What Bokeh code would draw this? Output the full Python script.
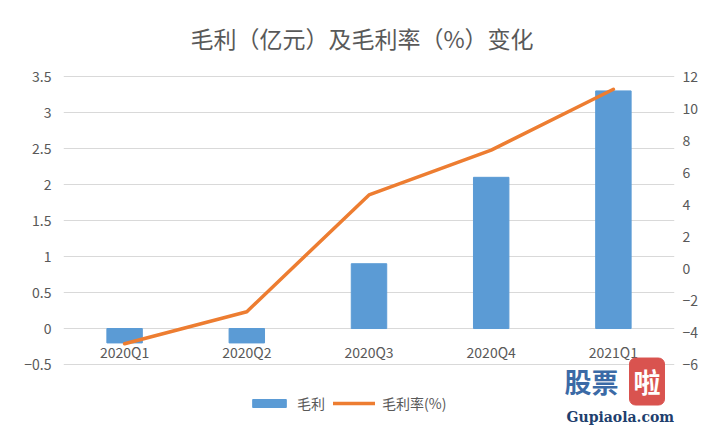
from bokeh.plotting import figure
from bokeh.models import (Range1d, LinearAxis, FactorRange, Legend, LegendItem,
                          FixedTicker, Label, ColumnDataSource)
from bokeh.core.properties import value
from bokeh.embed import file_html
from bokeh.resources import INLINE

title_text = "毛利（亿元）及毛利率（%）变化"
categories = ["2020Q1", "2020Q2", "2020Q3", "2020Q4", "2021Q1"]
gross_profit = [-0.2, -0.2, 0.9, 2.1, 3.3]          # 亿元
gross_margin = [-4.7, -2.7, 4.6, 7.4, 11.2]          # %
left_ticks = [-0.5, 0, 0.5, 1, 1.5, 2, 2.5, 3, 3.5]
right_ticks = [-6, -4, -2, 0, 2, 4, 6, 8, 10, 12]

FONT = "Noto Sans CJK SC"
GREY = "#595959"
BLUE = "#5b9bd5"
ORANGE = "#ed7d31"

src = ColumnDataSource(dict(cat=categories, gp=gross_profit, gm=gross_margin,
                            zero=[0] * len(categories)))

p = figure(width=720, height=432, output_backend="svg", toolbar_location=None,
           x_range=FactorRange(*categories, range_padding=0),
           y_range=Range1d(-1.444, 4.5556), x_axis_location=None, title_location=None,
           min_border_left=63, min_border_right=46, min_border_top=0, min_border_bottom=0)
p.extra_y_ranges = {"pct": Range1d(-10.25, 16.75)}
p.outline_line_color = None
p.background_fill_color = "white"
p.border_fill_color = "white"

bars = p.vbar(x="cat", top="gp", width=0.29, source=src, color=BLUE)
line = p.line(x="cat", y="gm", source=src, y_range_name="pct",
              line_color=ORANGE, line_width=3.5, line_cap="round")

# category labels sit just under the zero line, as in the original
p.text(x="cat", y="zero", text="cat", source=src, y_offset=23,
       text_font=value(FONT), text_font_size="14px", text_color=GREY,
       text_align="center", text_baseline="middle")

p.xgrid.grid_line_color = None
p.ygrid.grid_line_color = "#d9d9d9"
p.ygrid.ticker = FixedTicker(ticks=left_ticks)

ya = p.yaxis[0]
ya.ticker = FixedTicker(ticks=left_ticks)
ya.axis_line_color = None
ya.major_tick_line_color = None
ya.minor_tick_line_color = None
ya.major_tick_out = 0
ya.major_tick_in = 0
ya.major_label_text_font = FONT
ya.major_label_text_font_size = "14px"
ya.major_label_text_color = GREY
ya.major_label_standoff = 12

ra = LinearAxis(y_range_name="pct", ticker=FixedTicker(ticks=right_ticks))
ra.axis_line_color = None
ra.major_tick_line_color = None
ra.minor_tick_line_color = None
ra.major_tick_out = 0
ra.major_tick_in = 0
ra.major_label_text_font = FONT
ra.major_label_text_font_size = "14px"
ra.major_label_text_color = GREY
ra.major_label_standoff = 8
p.add_layout(ra, "right")

# chart title
p.add_layout(Label(x=2.5, y=3.5, x_offset=-7, y_offset=39, text=title_text,
                   text_font=FONT, text_font_size="23px", text_color=GREY,
                   text_align="center", text_baseline="middle"))

legend = Legend(items=[LegendItem(label="毛利", renderers=[bars]),
                       LegendItem(label="毛利率(%)", renderers=[line])],
                orientation="horizontal", location=(185, 19),
                label_text_font=FONT, label_text_font_size="14px", label_text_color=GREY,
                glyph_width=42, glyph_height=10, spacing=8, border_line_color=None,
                background_fill_alpha=0, label_standoff=7, padding=4, margin=0)
p.add_layout(legend, "center")

# watermark (bottom-right corner)
p.add_layout(Label(x=5, y=-0.5, x_offset=-110, y_offset=-17, text="股票",
                   text_font=FONT, text_font_size="27px", text_font_style="bold",
                   text_color="#3b6aa6", text_baseline="middle", text_align="left"))
p.add_layout(Label(x=5, y=-0.5, x_offset=-45, y_offset=-17, text="啦",
                   text_font=FONT, text_font_size="27px", text_font_style="bold",
                   text_color="white", text_baseline="middle", text_align="left",
                   background_fill_color="#d9534f", border_line_color="#d9534f",
                   padding=4, border_radius=6))
p.add_layout(Label(x=5, y=-0.5, x_offset=-108, y_offset=-52, text="Gupiaola.com",
                   text_font="DejaVu Serif", text_font_size="14px", text_font_style="bold",
                   text_color="#1f3f6e", text_baseline="middle", text_align="left"))

open("out.html", "w").write(file_html(p, INLINE))
